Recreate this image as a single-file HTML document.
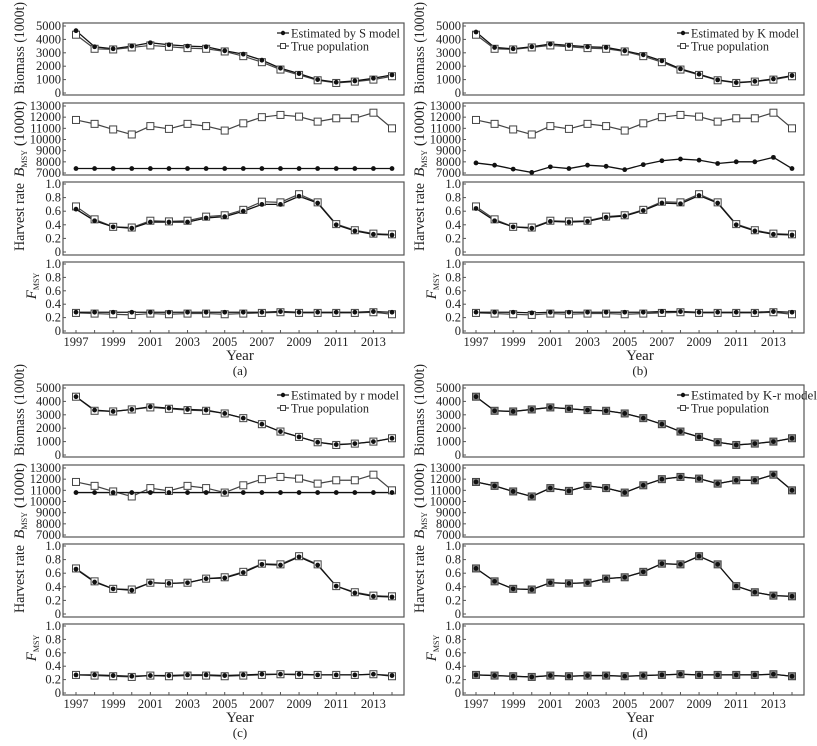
<!DOCTYPE html>
<html><head><meta charset="utf-8"><style>
body{margin:0;background:#fff;}
svg{display:block;font-family:"Liberation Serif",serif;}
</style></head><body>
<svg id="fig" width="817" height="746" viewBox="0 0 817 746" xmlns="http://www.w3.org/2000/svg"></svg>
<script>
const years=[1997,1998,1999,2000,2001,2002,2003,2004,2005,2006,2007,2008,2009,2010,2011,2012,2013,2014];
const xTicks=[1997,1999,2001,2003,2005,2007,2009,2011,2013];
const trueBiomass=[4350,3300,3250,3400,3550,3450,3350,3300,3100,2750,2300,1750,1350,950,750,850,1000,1250];
const trueBmsy=[11750,11400,10900,10450,11200,10950,11400,11200,10800,11450,12000,12200,12050,11600,11900,11900,12400,11000];
const trueHarvest=[0.67,0.48,0.37,0.36,0.46,0.45,0.46,0.52,0.54,0.62,0.74,0.73,0.85,0.73,0.41,0.32,0.27,0.26];
const trueFmsy=[0.27,0.26,0.25,0.24,0.26,0.25,0.26,0.26,0.25,0.26,0.27,0.28,0.27,0.27,0.27,0.27,0.28,0.25];
const sBiomass=[4650,3450,3300,3500,3750,3600,3500,3450,3150,2900,2450,1850,1450,1000,800,900,1100,1350];
const sBmsy=[7400,7400,7400,7400,7400,7400,7400,7400,7400,7400,7400,7400,7400,7400,7400,7400,7400,7400];
const sHarvest=[0.63,0.46,0.37,0.35,0.44,0.44,0.44,0.50,0.52,0.60,0.70,0.70,0.82,0.72,0.40,0.31,0.26,0.25];
const sFmsy=[0.28,0.28,0.28,0.28,0.28,0.28,0.28,0.28,0.28,0.28,0.28,0.29,0.28,0.28,0.28,0.28,0.29,0.28];
const kBiomass=[4550,3400,3300,3450,3650,3550,3450,3400,3150,2850,2400,1800,1400,980,780,870,1050,1300];
const kBmsy=[7900,7700,7350,7050,7550,7400,7700,7600,7300,7750,8100,8250,8150,7850,8000,8000,8400,7400];
const kHarvest=[0.64,0.46,0.37,0.35,0.45,0.44,0.45,0.51,0.53,0.61,0.72,0.71,0.83,0.72,0.40,0.31,0.26,0.25];
const kFmsy=[0.28,0.28,0.28,0.27,0.28,0.28,0.28,0.28,0.28,0.28,0.29,0.29,0.28,0.28,0.28,0.28,0.29,0.28];
const rBiomass=[4350,3350,3250,3400,3600,3500,3400,3350,3100,2750,2300,1750,1350,950,780,850,1000,1250];
const rBmsy=[10800,10800,10800,10800,10800,10800,10800,10800,10800,10800,10800,10800,10800,10800,10800,10800,10800,10800];
const rHarvest=[0.66,0.47,0.37,0.35,0.46,0.45,0.46,0.52,0.53,0.61,0.73,0.72,0.84,0.72,0.41,0.31,0.26,0.25];
const rFmsy=[0.27,0.27,0.26,0.25,0.26,0.26,0.27,0.27,0.26,0.27,0.28,0.28,0.28,0.27,0.27,0.27,0.28,0.26];
const krBiomass=trueBiomass.slice(),krBmsy=trueBmsy.slice(),krHarvest=trueHarvest.slice(),krFmsy=trueFmsy.slice();
const panels=[
 {id:'a',label:'(a)',model:'S',dx:0,dy:0,est:[sBiomass,sBmsy,sHarvest,sFmsy]},
 {id:'b',label:'(b)',model:'K',dx:400,dy:0,est:[kBiomass,kBmsy,kHarvest,kFmsy]},
 {id:'c',label:'(c)',model:'r',dx:0,dy:362,est:[rBiomass,rBmsy,rHarvest,rFmsy]},
 {id:'d',label:'(d)',model:'K-r',dx:400,dy:362,est:[krBiomass,krBmsy,krHarvest,krFmsy]}];
const subs=[
 {name:'biomass',top:23,bot:95,min:0,max:5000,y0:93,y1:26,ticks:[0,1000,2000,3000,4000,5000],fmt:v=>String(v),tv:trueBiomass},
 {name:'bmsy',top:103,bot:175,min:7000,max:13000,y0:173,y1:106,ticks:[7000,8000,9000,10000,11000,12000,13000],fmt:v=>String(v),tv:trueBmsy},
 {name:'harvest-rate',top:182,bot:255,min:0,max:1,y0:252,y1:184,ticks:[0,0.2,0.4,0.6,0.8,1.0],fmt:v=>v===0?'0':v.toFixed(1),tv:trueHarvest},
 {name:'fmsy',top:262,bot:333,min:0,max:1,y0:331,y1:264,ticks:[0,0.2,0.4,0.6,0.8,1.0],fmt:v=>v===0?'0':v.toFixed(1),tv:trueFmsy}];
const NS='http://www.w3.org/2000/svg';
const svg=document.getElementById('fig');
function mk(tag,attrs,parent,text){const e=document.createElementNS(NS,tag);for(const k in attrs)e.setAttribute(k,attrs[k]);if(text!==undefined)e.textContent=text;(parent||svg).appendChild(e);return e;}
const X0=63,X1=404,XL=76,XR=392;
function xs(yr,dx){return dx+XL+(yr-1997)*(XR-XL)/(2014-1997);}
panels.forEach(p=>{
 const g=mk('g',{});
 
 
 subs.forEach((s,si)=>{
  const ys=v=>p.dy+s.y0+(v-s.min)*(s.y1-s.y0)/(s.max-s.min);
  const sg=mk('g',{},g);
  
  
  const fr=mk('rect',{x:p.dx+X0,y:p.dy+s.top,width:X1-X0,height:s.bot-s.top,fill:'none',stroke:'#555','stroke-width':1.2},sg);
  
  
  s.ticks.forEach(t=>{
   const y=ys(t);
   mk('line',{x1:p.dx+X0,x2:p.dx+X0+3,y1:y,y2:y,stroke:'#555'},sg);
   const tl=mk('text',{x:p.dx+X0-2,y:y+4,'text-anchor':'end','font-size':12.5,fill:'#222'},sg,s.fmt(t));
   
   
  });
  const tp=years.map((yr,i)=>xs(yr,p.dx)+','+ys(s.tv[i])).join(' ');
  const tl=mk('polyline',{points:tp,fill:'none',stroke:'#444','stroke-width':1.2},sg);
  
  
  const ev=p.est[si];
  const ep=years.map((yr,i)=>xs(yr,p.dx)+','+ys(ev[i])).join(' ');
  const el=mk('polyline',{points:ep,fill:'none',stroke:'#111','stroke-width':1.3},sg);
  
  
  years.forEach((yr,i)=>{
   const m=mk('rect',{x:xs(yr,p.dx)-3.5,y:ys(s.tv[i])-3.5,width:7,height:7,fill:p.id==='d'?'#888':'#fff',stroke:'#444','stroke-width':1},sg);
   
   
  });
  years.forEach((yr,i)=>{
   const c=mk('circle',{cx:xs(yr,p.dx),cy:ys(ev[i]),r:2.4,fill:'#111'},sg);
   
   
  });
 });
 const t1=mk('text',{transform:`translate(${p.dx+24},${p.dy+48}) rotate(-90)`,'text-anchor':'middle','font-size':15,fill:'#222',textLength:92,lengthAdjust:'spacingAndGlyphs'},g,'Biomass (1000t)');
 
 
 const t2=mk('text',{transform:`translate(${p.dx+24},${p.dy+139}) rotate(-90)`,'text-anchor':'middle','font-size':15,fill:'#222',textLength:76,lengthAdjust:'spacingAndGlyphs'},g);
 mk('tspan',{'font-style':'italic'},t2,'B');
 mk('tspan',{'font-size':8,dy:3},t2,'MSY');
 mk('tspan',{dy:-3},t2,' (1000t)');
 
 
 const t3=mk('text',{transform:`translate(${p.dx+24},${p.dy+217}) rotate(-90)`,'text-anchor':'middle','font-size':15,fill:'#222',textLength:68,lengthAdjust:'spacingAndGlyphs'},g,'Harvest rate');
 
 
 const t4=mk('text',{transform:`translate(${p.dx+36},${p.dy+286}) rotate(-90)`,'text-anchor':'middle','font-size':15,fill:'#222'},g);
 mk('tspan',{'font-style':'italic'},t4,'F');
 mk('tspan',{'font-size':8,dy:3},t4,'MSY');
 
 
 years.forEach(yr=>{mk('line',{x1:xs(yr,p.dx),x2:xs(yr,p.dx),y1:p.dy+333,y2:p.dy+330,stroke:'#555'},g);});
 xTicks.forEach(yr=>{
  const xl=mk('text',{x:xs(yr,p.dx),y:p.dy+346,'text-anchor':'middle','font-size':12.5,fill:'#222'},g,String(yr));
  
  
 });
 const xt=mk('text',{x:p.dx+240,y:p.dy+360,'text-anchor':'middle','font-size':15,fill:'#222'},g,'Year');
 
 
 const pl=mk('text',{x:p.dx+240,y:p.dy+375,'text-anchor':'middle','font-size':13,fill:'#222'},g,p.label);
 
 
 const lg=mk('g',{},g);
 
 
 const lx=p.dx+277,ly=p.dy+33;
 mk('line',{x1:lx,x2:lx+12,y1:ly,y2:ly,stroke:'#111','stroke-width':1.2},lg);
 mk('circle',{cx:lx+6,cy:ly,r:2.2,fill:'#111'},lg);
 const w1=p.model==='K-r'?126:(p.model==='S'?109:108);
 const le1=mk('text',{x:lx+14,y:ly+4.5,'font-size':13,fill:'#222',textLength:w1,lengthAdjust:'spacingAndGlyphs'},lg,'Estimated by '+p.model+' model');
 
 
 mk('line',{x1:lx,x2:lx+12,y1:ly+13,y2:ly+13,stroke:'#444','stroke-width':1.2},lg);
 mk('rect',{x:lx+3.5,y:ly+10.5,width:5,height:5,fill:'#fff',stroke:'#444'},lg);
 const le2=mk('text',{x:lx+14,y:ly+17.5,'font-size':13,fill:'#222',textLength:78,lengthAdjust:'spacingAndGlyphs'},lg,'True population');
 
 
});
</script>
</body></html>
